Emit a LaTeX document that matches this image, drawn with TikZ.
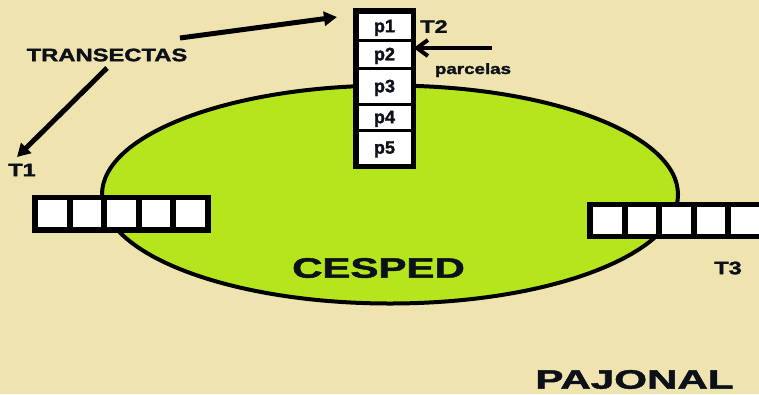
\documentclass[tikz,border=0pt]{standalone}
\usepackage{graphicx}
\usepackage{fontspec}
\setmainfont{Liberation Sans}[BoldFeatures={FakeBold=1.6}]
\usetikzlibrary{arrows.meta}
\definecolor{bg}{RGB}{239,228,176}
\definecolor{cesped}{RGB}{181,230,29}
\definecolor{ink}{RGB}{12,16,24}
\newcommand\xstretch[2]{\scalebox{#1}[1]{#2}}
\begin{document}
\begin{tikzpicture}[x=1pt,y=-1pt,
  lbl/.style={font=\bfseries\fontsize{18}{20}\selectfont, text=ink, inner sep=0pt},
  cell/.style={draw=black, line width=3pt, fill=white, minimum width=55pt, inner sep=0pt,
    font=\bfseries\fontsize{18}{19}\selectfont, text depth=0pt, text=ink},
  hcell/.style={fill=white, minimum width=28.6pt, minimum height=27pt, inner sep=0pt},
  strip/.style={fill=black, inner sep=0pt},
  arr/.style={line width=5pt, -{Triangle[length=13pt,width=14pt]}}]
\fill[bg] (0,0) rectangle (759,394);
\clip (0,0) rectangle (759,394);
% cesped
\draw[line width=4pt, fill=cesped] (390,194.5) ellipse [x radius=288pt, y radius=109pt];
% T1 strip
\node[strip, minimum width=179pt, minimum height=38pt] (t1strip) at (121.5,214) {};
\foreach \x [count=\i] in {52.3,86.9,121.5,156.1,190.7}
  \node[hcell] (t1c\i) at (\x,213.5) {};
% T3 strip
\node[strip, minimum width=183pt, minimum height=37pt] (t3strip) at (678.5,220.5) {};
\foreach \x [count=\i] in {607.3,641.9,676.5,711.1,745.7}
  \node[hcell] (t3c\i) at (\x,220.5) {};
% T2 stack
\node[cell, minimum height=28pt] (p1) at (384.5,26) {p1};
\node[cell, minimum height=28pt] (p2) at (384.5,54) {p2};
\node[cell, minimum height=36pt] (p3) at (384.5,86) {p3};
\node[cell, minimum height=26pt] (p4) at (384.5,117) {p4};
\node[cell, minimum height=35pt] (p5) at (384.5,147.5) {p5};
\draw[line width=4.5pt] (p1.north west) rectangle (p5.south east);
% labels
\node[lbl] (trans) at (107,55) {\xstretch{1.32}{TRANSECTAS}};
\node[lbl] (t1) at (22,170) {\xstretch{1.3}{T1}};
\node[lbl] (t2) at (434,26.5) {\xstretch{1.3}{T2}};
\node[lbl] (t3) at (728,268) {\xstretch{1.3}{T3}};
\node[lbl, font=\bfseries\fontsize{15}{17}\selectfont, anchor=base] (parc) at (473,74) {\xstretch{1.25}{parcelas}};
\node[lbl, font=\bfseries\fontsize{28}{30}\selectfont] (cesp) at (378.5,268) {\xstretch{1.5}{CESPED}};
\node[lbl, font=\bfseries\fontsize{26.5}{28}\selectfont] (pajo) at (634.5,379.5) {\xstretch{1.59}{PAJONAL}};
% arrows
\coordinate (a1s) at (180,38);
\coordinate (a1e) at (337,17);
\draw[arr] (a1s) -- (a1e);
\coordinate (a2s) at (107,68);
\coordinate (a2e) at (17,157);
\draw[arr] (a2s) -- (a2e);
\coordinate (a3s) at (492,48);
\draw[line width=4pt, -{Straight Barb[length=11pt,width=16pt]}] (a3s) -- (p2.east |- a3s);
\end{tikzpicture}
\end{document}
